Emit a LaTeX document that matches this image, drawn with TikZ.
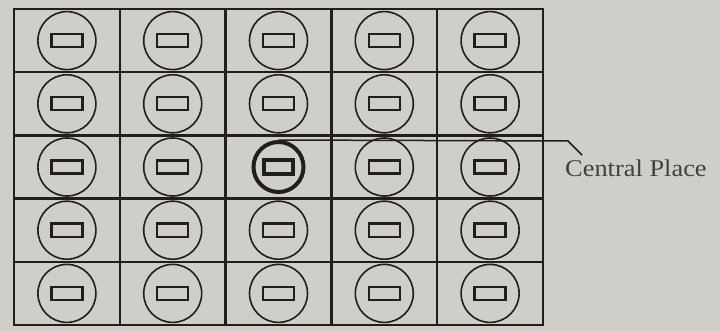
\documentclass[tikz,border=0pt]{standalone}
\usepackage{fontspec}
\setmainfont{Liberation Serif}
\definecolor{paper}{RGB}{208,206,201}
\definecolor{ink}{RGB}{34,30,27}
\tikzset{
  gridline/.style={draw=ink, line width=2.5pt, line cap=rect},
  settle/.style={circle, draw=ink, line width=1.6pt, minimum size=58pt, inner sep=0pt},
  shop/.style={rectangle, draw=ink, line width=2.4pt, minimum width=31pt, minimum height=13pt, inner sep=0pt},
  hub/.style={circle, draw=ink, line width=4pt, minimum size=50pt, inner sep=0pt},
  hubshop/.style={rectangle, draw=ink, line width=3.2pt, minimum width=29pt, minimum height=14pt, inner sep=0pt},
  leader/.style={draw=ink, line width=1.5pt},
  labeltext/.style={anchor=base west, inner sep=0pt, text=ink!85, font=\fontsize{24}{28}\selectfont}
}
\begin{document}
\begin{tikzpicture}[x=1pt,y=-1pt]
\fill[paper] (0,0) rectangle (720,331);
\useasboundingbox (0,0) rectangle (720,331);
\foreach \i in {0,...,5} \draw[gridline] ({14+105.8*\i},9) -- ({14+105.8*\i},325);
\foreach \j in {0,...,5} \draw[gridline] (14,{9+63.2*\j}) -- (543,{9+63.2*\j});
\foreach \i in {1,...,5}{\foreach \j in {1,...,5}{
  \pgfmathsetmacro\cx{14+105.8*(\i-0.5)}
  \pgfmathsetmacro\cy{9+63.2*(\j-0.5)}
  \ifnum\numexpr\i*10+\j\relax=33
    \node[hub] (c\i\j) at (\cx,\cy) {};
    \node[hubshop] (r\i\j) at (c\i\j) {};
  \else
    \node[settle] (c\i\j) at (\cx,\cy) {};
    \node[shop] (r\i\j) at (c\i\j) {};
  \fi
}}
\coordinate (bend) at (568,141);
\coordinate (tip) at (582,155);
\draw[leader] (c33.north) -- (bend) -- (tip);
\node[labeltext] (label) at (565,177) {\scalebox{1.1}[1]{Central Place}};
\end{tikzpicture}
\end{document}
